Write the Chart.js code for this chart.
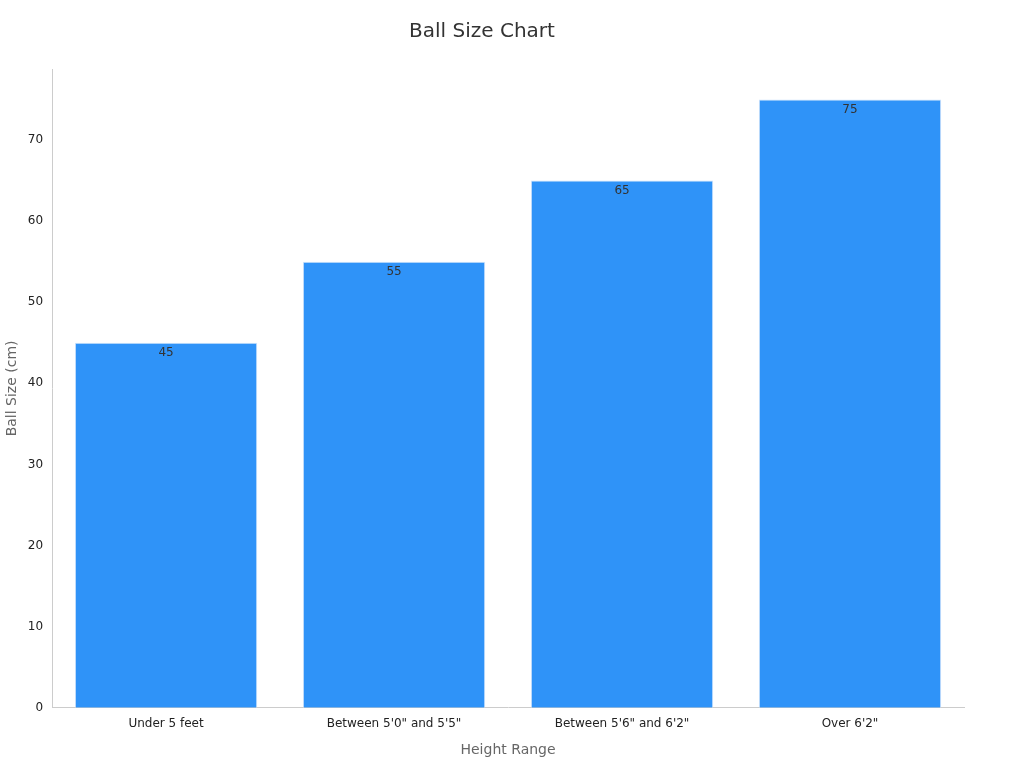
<!DOCTYPE html>
<html><head><meta charset="utf-8">
<script src="https://cdn.jsdelivr.net/npm/chart.js@4/dist/chart.umd.min.js"></script>
<style>html,body{margin:0;padding:0;background:#fff}#w{width:1024px;height:768px}</style>
</head><body><div id="w"><canvas id="c"></canvas></div>
<script>
const categories = ["Under 5 feet", "Between 5'0\" and 5'5\"", "Between 5'6\" and 6'2\"", "Over 6'2\""];
const ballSizes = [45, 55, 65, 75];
const F = "'DejaVu Sans', sans-serif";
const labelPlugin = {
  id: 'vals',
  afterDatasetsDraw(chart) {
    const ctx = chart.ctx;
    const meta = chart.getDatasetMeta(0);
    ctx.save();
    ctx.font = "12px " + F;
    ctx.fillStyle = '#333';
    ctx.textAlign = 'center';
    ctx.textBaseline = 'top';
    meta.data.forEach((el, i) => ctx.fillText(String(ballSizes[i]), el.x, el.y + 4));
    ctx.restore();
  }
};
new Chart(document.getElementById('c'), {
  type: 'bar',
  data: { labels: categories, datasets: [{ data: ballSizes, backgroundColor: '#2f93f8', borderColor: '#cfe3fb', borderWidth: 1, categoryPercentage: 0.8, barPercentage: 1 }] },
  options: {
    responsive: true, maintainAspectRatio: false, animation: false,
    layout: { padding: { left: 0, right: 60, top: 10, bottom: 5 } },
    plugins: {
      legend: { display: false }, tooltip: { enabled: false },
      title: { display: true, text: 'Ball Size Chart', color: '#333', font: { family: F, size: 20, weight: 'normal' }, padding: { top: 10, bottom: 25 } }
    },
    scales: {
      x: { grid: { display: false, drawTicks: true, tickLength: 6 }, border: { color: '#ccc' },
           ticks: { color: '#222', font: { family: F, size: 12 } },
           title: { display: true, text: 'Height Range', color: '#666', font: { family: F, size: 14 }, padding: { top: 8 } } },
      y: { min: 0, max: 78.75, grid: { display: false, tickLength: 6 }, border: { color: '#ccc' },
           ticks: { stepSize: 10, color: '#222', font: { family: F, size: 12 } },
           afterBuildTicks: ax => { ax.ticks = ax.ticks.filter(t => t.value % 10 === 0); },
           title: { display: true, text: 'Ball Size (cm)', color: '#666', font: { family: F, size: 14 } } }
    }
  },
  plugins: [labelPlugin]
});
</script></body></html>
